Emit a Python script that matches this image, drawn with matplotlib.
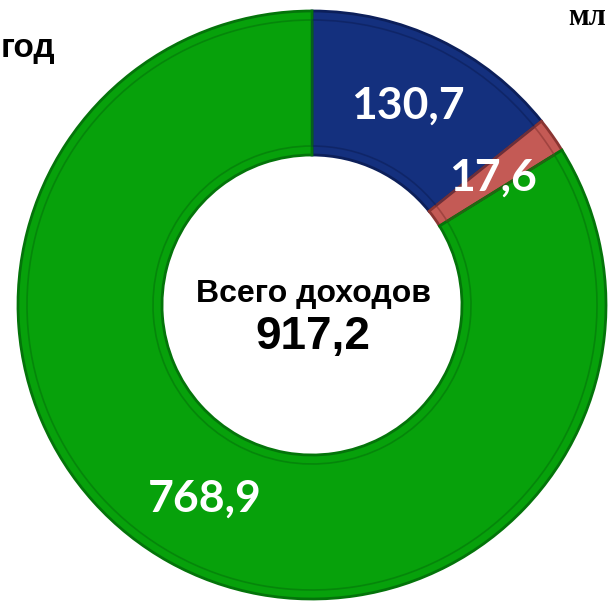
import matplotlib
matplotlib.use("Agg")
import matplotlib.pyplot as plt
from matplotlib import font_manager

names = {f.name for f in font_manager.fontManager.ttflist}
narrow = 'Liberation Sans Narrow' if 'Liberation Sans Narrow' in names else 'Liberation Sans'

values = [130.7, 17.6, 768.9]
labels = ['130,7', '17,6', '768,9']
colors = ['#14307e', '#c45a55', '#07a10b']
edges = ['#0c1f5a', '#8a3532', '#04740a']
total_label = '917,2'
center_title = 'Всего доходов'

fig = plt.figure(figsize=(6.08, 6.05), dpi=100)
ax = fig.add_axes([0, 0, 1, 1])

cx, cy, R, r = 312, 300, 294, 150

wedges, texts = ax.pie(values, labels=labels, colors=colors, startangle=90, counterclock=False,
                       center=(cx, cy), radius=R, labeldistance=0.752,
                       wedgeprops=dict(width=R - r, linewidth=2.0), frame=True)
for w, e in zip(wedges, edges):
    w.set_edgecolor(e)
# bevel line
w2, _ = ax.pie(values, colors=['none'] * 3, startangle=90, counterclock=False,
               center=(cx, cy), radius=R - 9,
               wedgeprops=dict(width=R - r - 18, linewidth=1.2), frame=True)
for w, e in zip(w2, edges):
    w.set_edgecolor(e)
    w.set_alpha(0.6)

for t in texts:
    t.set_ha('center')
    t.set_va('center')
    t.set_color('white')
    t.set_fontsize(32)
    t.set_fontweight('bold')
    t.set_fontfamily(['Lato', 'DejaVu Sans'])

ax.set_xlim(0, 608)
ax.set_ylim(0, 605)
ax.set_aspect('auto')
ax.axis('off')

ax.text(313, 311, center_title, ha='center', va='center', fontsize=23, fontweight='bold',
        family=[narrow, 'DejaVu Sans'], color='black')
ax.text(313, 268, total_label, ha='center', va='center', fontsize=33, fontweight='bold',
        family=[narrow, 'DejaVu Sans'], color='black')

fig.text(1 / 608, 1 - 48 / 605, 'год', ha='left', va='center', fontsize=24, fontweight='bold',
         family=['Liberation Sans', 'DejaVu Sans'], color='black')
fig.text(606 / 608, 1 - 3 / 605, 'мл', ha='right', va='top', fontsize=22, fontweight='bold',
         family=['Liberation Serif', 'DejaVu Serif'], color='black')

fig.savefig('out.png', dpi=100)
